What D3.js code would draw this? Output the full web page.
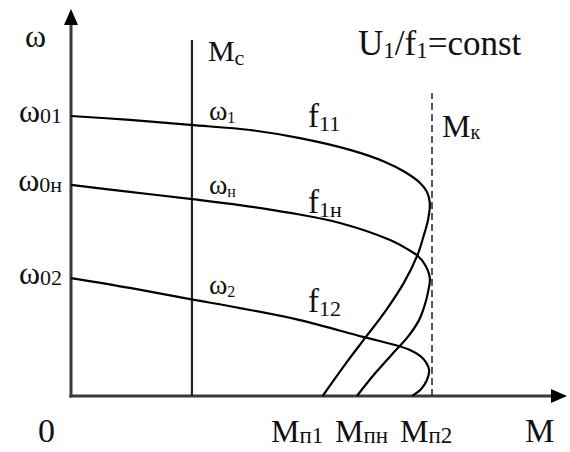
<!DOCTYPE html>
<html>
<head>
<meta charset="utf-8">
<script src="https://cdn.jsdelivr.net/npm/d3@7"></script>
<style>
  html, body { margin: 0; padding: 0; background: #fff; }
  svg { display: block; }
  text { font-family: "Liberation Serif", "DejaVu Serif", serif; fill: #111; }
</style>
</head>
<body>
<svg id="chart" width="570" height="452"></svg>
<script>
// Mechanical characteristics ω(M) of an induction motor under frequency control, U1/f1 = const.
// Torque M in units of the breakdown torque Mк, speed ω in units of ω01.

const curveNames = ["f11", "f1н", "f12"];

const f11Torque = [0, 0.163, 0.330, 0.496, 0.634, 0.773, 0.870, 0.925, 0.967, 0.986, 0.994, 0.989, 0.976, 0.960, 0.922, 0.873, 0.817, 0.760, 0.697];
const f11Speed  = [1.000, 0.986, 0.968, 0.950, 0.921, 0.879, 0.836, 0.800, 0.761, 0.729, 0.689, 0.629, 0.568, 0.504, 0.404, 0.307, 0.211, 0.114, 0];

const f1nTorque = [0, 0.163, 0.330, 0.468, 0.607, 0.745, 0.884, 0.934, 0.961, 0.981, 0.994, 0.989, 0.979, 0.964, 0.933, 0.900, 0.843, 0.792];
const f1nSpeed  = [0.754, 0.729, 0.704, 0.682, 0.654, 0.618, 0.557, 0.523, 0.500, 0.468, 0.421, 0.371, 0.321, 0.271, 0.211, 0.164, 0.082, 0];

const f12Torque = [0, 0.163, 0.330, 0.468, 0.634, 0.809, 0.898, 0.939, 0.967, 0.983, 0.992, 0.986, 0.970, 0.945];
const f12Speed  = [0.421, 0.386, 0.346, 0.314, 0.271, 0.211, 0.182, 0.164, 0.143, 0.121, 0.093, 0.057, 0.025, 0];

// Idle speeds (curve starts), starting torques (curve ends), load and breakdown torque
const idleSpeedLabels = [["ω", "01"], ["ω", "0н"], ["ω", "02"]];
const idleSpeeds      = [1.000, 0.754, 0.421];
const startLabels     = [["M", "п1"], ["M", "пн"], ["M", "п2"]];
const startTorques    = [0.697, 0.792, 0.945];
const workLabels      = [["ω", "1"], ["ω", "н"], ["ω", "2"]];
const loadTorque      = 0.335;   // Mс
const breakdownTorque = 1.0;     // Mк
const torqueAxisMax   = 1.374;
const speedAxisMax    = 1.382;

const svg = d3.select("#chart");

const x = d3.scaleLinear().domain([0, 1]).range([71, 432]);
const y = d3.scaleLinear().domain([0, 1]).range([396, 116]);

const ink = "#000";
const axisInk = "#3a3a3a";

// text with a subscript part
function subText(g, px, py, main, sub, opts) {
  const t = g.append("text")
    .attr("x", px).attr("y", py)
    .attr("text-anchor", opts.anchor || "start")
    .style("font-size", opts.size + "px");
  t.append("tspan").text(main);
  t.append("tspan")
    .attr("dy", opts.dy)
    .style("font-size", opts.subSize + "px")
    .text(sub);
  return t;
}

// axes with arrow heads
const axes = svg.append("g");
axes.append("line")
  .attr("x1", x(0)).attr("y1", y(0) + 1.5)
  .attr("x2", x(0)).attr("y2", y(speedAxisMax) + 12)
  .attr("stroke", axisInk).attr("stroke-width", 3);
axes.append("line")
  .attr("x1", x(0) - 1.5).attr("y1", y(0))
  .attr("x2", x(torqueAxisMax) - 12).attr("y2", y(0))
  .attr("stroke", axisInk).attr("stroke-width", 3);
axes.append("path")
  .attr("d", `M${x(0)},${y(speedAxisMax)} L${x(0) - 7},${y(speedAxisMax) + 16} L${x(0) + 7},${y(speedAxisMax) + 16} Z`)
  .attr("fill", ink);
axes.append("path")
  .attr("d", `M${x(torqueAxisMax)},${y(0)} L${x(torqueAxisMax) - 16},${y(0) - 7} L${x(torqueAxisMax) - 16},${y(0) + 7} Z`)
  .attr("fill", ink);

// load torque line Mс
svg.append("line")
  .attr("x1", x(loadTorque)).attr("y1", y(0))
  .attr("x2", x(loadTorque)).attr("y2", 40)
  .attr("stroke", "#222").attr("stroke-width", 2.2);

// breakdown torque Mк, dashed
svg.append("line")
  .attr("x1", x(breakdownTorque)).attr("y1", y(0))
  .attr("x2", x(breakdownTorque)).attr("y2", 93)
  .attr("stroke", "#222").attr("stroke-width", 1.5)
  .attr("stroke-dasharray", "7,4");

// characteristics
const series = [
  { name: curveNames[0], M: f11Torque, w: f11Speed },
  { name: curveNames[1], M: f1nTorque, w: f1nSpeed },
  { name: curveNames[2], M: f12Torque, w: f12Speed }
];
const line = d3.line()
  .x(d => x(d[0])).y(d => y(d[1]))
  .curve(d3.curveCatmullRom.alpha(0.5));
svg.append("g").selectAll("path")
  .data(series)
  .join("path")
  .attr("d", s => line(s.M.map((m, i) => [m, s.w[i]])))
  .attr("fill", "none")
  .attr("stroke", ink)
  .attr("stroke-width", 2.2)
  .attr("stroke-linejoin", "round");

const labels = svg.append("g");

// axis titles and origin
labels.append("text").attr("x", 25).attr("y", 47).style("font-size", "32px").text("ω");
labels.append("text").attr("x", 525).attr("y", 442).style("font-size", "33px").text("M");
labels.append("text").attr("x", 38).attr("y", 442).style("font-size", "34px").text("0");

// idle speeds on the ω axis
idleSpeeds.forEach((v, i) => {
  subText(labels, x(0) - 9, y(v) + 6, idleSpeedLabels[i][0], idleSpeedLabels[i][1],
    { anchor: "end", size: 32, subSize: 22, dy: 1 });
});

// starting torques under the M axis
const startX = [271, 335, 400];
startTorques.forEach((v, i) => {
  subText(labels, startX[i], 442, startLabels[i][0], startLabels[i][1],
    { size: 32, subSize: 23, dy: 1 });
});

// working points on the Mс line
series.forEach((s, i) => {
  const w = s.w[2];
  subText(labels, x(loadTorque) + 17, y(w) - 5, workLabels[i][0], workLabels[i][1],
    { size: 28, subSize: 16, dy: 3 });
});

// curve names
const nameY = [127, 213, 312];
series.forEach((s, i) => {
  subText(labels, 308, nameY[i], "f", s.name.slice(1),
    { size: 33, subSize: 22, dy: 4 });
});

subText(labels, x(loadTorque) + 16, 61, "M", "с", { size: 30, subSize: 22, dy: 4 });
subText(labels, x(breakdownTorque) + 10, 137, "M", "к", { size: 32, subSize: 20, dy: 2 });

// U1/f1 = const
const uf = labels.append("text").attr("x", 358).attr("y", 55).style("font-size", "35px");
uf.append("tspan").text("U");
uf.append("tspan").attr("dy", 3).style("font-size", "23px").text("1");
uf.append("tspan").attr("dy", -3).text("/f");
uf.append("tspan").attr("dy", 3).style("font-size", "23px").text("1");
uf.append("tspan").attr("dy", -3).text("=const");
</script>
</body>
</html>
